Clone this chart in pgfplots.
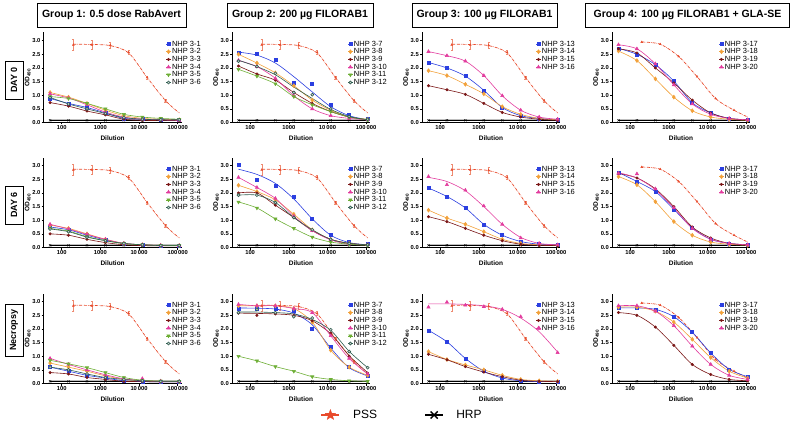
\documentclass[border=0pt]{standalone}
\usepackage{fontspec}
\setmainfont{Liberation Sans}
\usepackage{pgfplots}
\usepackage{pgfplotstable}
\pgfplotsset{compat=1.18}

\definecolor{cA}{HTML}{2B3FE0}
\definecolor{cB}{HTML}{F2A13A}
\definecolor{cC}{HTML}{7A1616}
\definecolor{cD}{HTML}{E23C9E}
\definecolor{cE}{HTML}{6DAE35}
\definecolor{cF}{HTML}{2E5E50}
\definecolor{pss}{HTML}{E84A2B}
\definecolor{psserr}{HTML}{EE8A70}

% filled five point star for the PSS key
\pgfdeclareplotmark{fstar}{%
  \pgfpathmoveto{\pgfpointpolar{90}{\pgfplotmarksize}}%
  \pgfpathlineto{\pgfpointpolar{126}{0.42\pgfplotmarksize}}%
  \pgfpathlineto{\pgfpointpolar{162}{\pgfplotmarksize}}%
  \pgfpathlineto{\pgfpointpolar{198}{0.42\pgfplotmarksize}}%
  \pgfpathlineto{\pgfpointpolar{234}{\pgfplotmarksize}}%
  \pgfpathlineto{\pgfpointpolar{270}{0.42\pgfplotmarksize}}%
  \pgfpathlineto{\pgfpointpolar{306}{\pgfplotmarksize}}%
  \pgfpathlineto{\pgfpointpolar{342}{0.42\pgfplotmarksize}}%
  \pgfpathlineto{\pgfpointpolar{18}{\pgfplotmarksize}}%
  \pgfpathlineto{\pgfpointpolar{54}{0.42\pgfplotmarksize}}%
  \pgfpathclose\pgfusepathqfillstroke}

% ---------- controls ----------
\pgfplotstableread{
x y
50 0.08
150 0.08
450 0.08
1350 0.08
4050 0.08
12150 0.08
36450 0.08
109350 0.08
}\hrp

\pgfplotstableread{
x y e
200 2.85 0.20
600 2.85 0.18
1800 2.83 0.12
5400 2.57 0.08
16200 1.65 0.05
48600 0.80 0.04
}\psspts
\pgfplotstableread{
x y
200 2.87
600 2.86
1800 2.82
5400 2.55
16200 1.65
48600 0.80
110000 0.35
}\pssfit
\pgfplotstableread{
x y
200 2.95
600 2.87
1800 2.42
5400 1.68
16200 0.88
48600 0.45
}\pssGpts
\pgfplotstableread{
x y
200 2.95
600 2.87
1800 2.42
5400 1.68
16200 0.88
48600 0.45
110000 0.20
}\pssGfit

% ---------- DAY 0 ----------
\pgfplotstableread{
x a b c d e f
50 0.88 1.10 0.73 1.05 0.95 0.92
150 0.70 0.93 0.60 0.90 0.88 0.68
450 0.55 0.70 0.42 0.65 0.70 0.50
1350 0.35 0.45 0.28 0.38 0.50 0.33
4050 0.15 0.25 0.12 0.20 0.30 0.18
12150 0.12 0.15 0.08 0.12 0.20 0.12
36450 0.10 0.12 0.07 0.10 0.15 0.10
109350 0.10 0.10 0.07 0.08 0.12 0.10
}\gAdz
\pgfplotstableread{
x a b c d e f af ff
50 2.55 2.50 2.07 2.28 1.95 2.25 2.58 2.28
150 2.53 2.18 1.78 2.05 1.70 2.05 2.47 2.05
450 2.30 1.82 1.55 1.62 1.42 1.80 2.18 1.75
1350 1.45 1.35 1.10 0.98 0.95 1.10 1.68 1.30
4050 1.42 0.82 0.70 0.50 0.65 1.02 1.12 0.88
12150 0.65 0.45 0.40 0.25 0.40 0.50 0.58 0.48
36450 0.28 0.20 0.20 0.15 0.20 0.22 0.25 0.22
109350 0.12 0.12 0.10 0.10 0.10 0.12 0.10 0.10
}\gBdz
\pgfplotstableread{
x a b c d
50 2.20 1.90 1.35 2.60
150 2.00 1.72 1.20 2.45
450 1.70 1.40 1.03 2.25
1350 1.18 1.05 0.70 1.72
4050 0.55 0.58 0.37 0.98
12150 0.25 0.30 0.20 0.45
36450 0.15 0.15 0.12 0.20
109350 0.10 0.10 0.08 0.12
}\gCdz
\pgfplotstableread{
x a b c d
50 2.72 2.62 2.70 2.85
150 2.50 2.27 2.55 2.70
450 2.12 1.60 2.00 2.15
1350 1.52 0.93 1.45 1.38
4050 0.72 0.43 0.82 0.68
12150 0.35 0.20 0.35 0.30
36450 0.15 0.12 0.15 0.15
109350 0.10 0.08 0.10 0.10
}\gDdz

% ---------- DAY 6 ----------
\pgfplotstableread{
x a b c d e f
50 0.75 0.82 0.50 0.85 0.70 0.68
150 0.65 0.70 0.45 0.68 0.60 0.58
450 0.45 0.50 0.30 0.48 0.40 0.38
1350 0.28 0.30 0.18 0.30 0.25 0.25
4050 0.15 0.15 0.10 0.15 0.14 0.15
12150 0.10 0.10 0.07 0.10 0.10 0.10
36450 0.07 0.07 0.06 0.08 0.08 0.07
109350 0.07 0.07 0.06 0.07 0.07 0.07
}\gAds
\pgfplotstableread{
x a b c d e f af
50 3.02 2.28 2.00 2.57 1.67 1.92 2.87
150 2.47 2.05 2.00 2.20 1.45 1.92 2.68
450 2.25 1.75 1.55 1.80 1.05 1.65 2.35
1350 1.87 1.22 1.10 1.15 0.70 1.10 1.78
4050 1.07 0.65 0.62 0.62 0.38 0.65 1.05
12150 0.47 0.30 0.30 0.28 0.20 0.30 0.45
36450 0.20 0.15 0.15 0.12 0.12 0.15 0.18
109350 0.12 0.10 0.10 0.10 0.08 0.10 0.10
}\gBds
\pgfplotstableread{
x a b c d df
50 2.18 1.37 1.13 2.60 2.57
150 1.87 1.08 0.95 2.30 2.42
450 1.45 0.85 0.70 2.10 2.08
1350 0.85 0.58 0.45 1.52 1.50
4050 0.45 0.30 0.25 0.85 0.85
12150 0.22 0.15 0.12 0.35 0.37
36450 0.12 0.10 0.08 0.15 0.15
109350 0.10 0.08 0.07 0.10 0.10
}\gCds
\pgfplotstableread{
x a b c d df
50 2.75 2.60 2.72 2.72 2.74
150 2.42 2.30 2.55 2.70 2.55
450 2.05 1.68 2.15 2.15 2.12
1350 1.40 0.95 1.50 1.45 1.45
4050 0.72 0.45 0.75 0.70 0.70
12150 0.30 0.20 0.35 0.30 0.30
36450 0.15 0.12 0.15 0.15 0.15
109350 0.10 0.08 0.10 0.10 0.10
}\gDds

% ---------- Necropsy ----------
\pgfplotstableread{
x a b c d e f df
50 0.60 0.75 0.40 0.92 0.85 0.60 0.92
150 0.45 0.60 0.35 0.70 0.72 0.50 0.70
450 0.30 0.45 0.22 0.50 0.58 0.35 0.50
1350 0.20 0.28 0.15 0.32 0.40 0.22 0.32
4050 0.10 0.15 0.08 0.18 0.22 0.15 0.17
12150 0.07 0.10 0.07 0.18 0.12 0.10 0.11
36450 0.06 0.08 0.06 0.08 0.09 0.08 0.08
109350 0.06 0.07 0.06 0.07 0.08 0.08 0.07
}\gAnc
\pgfplotstableread{
x a b c d e f af cf ff
50 2.75 2.85 2.58 2.90 1.00 2.60 2.77 2.58 2.62
150 2.75 2.85 2.50 2.85 0.83 2.72 2.76 2.57 2.62
450 2.75 2.85 2.55 2.85 0.62 2.60 2.73 2.55 2.60
1350 2.65 2.75 2.50 2.75 0.45 2.45 2.58 2.50 2.55
4050 2.02 2.25 2.30 2.60 0.25 2.40 2.15 2.30 2.35
12150 1.33 1.22 1.85 1.75 0.15 1.97 1.30 1.82 1.95
36450 0.60 0.60 1.00 0.92 0.10 1.17 0.58 1.02 1.18
109350 0.30 0.30 0.38 0.35 0.08 0.58 0.28 0.40 0.58
}\gBnc
\pgfplotstableread{
x a b c d df
50 1.95 1.17 1.07 2.80 2.92
150 1.53 0.88 0.87 2.98 2.92
450 0.92 0.68 0.62 2.87 2.90
1350 0.45 0.50 0.42 2.82 2.85
4050 0.20 0.30 0.25 2.72 2.72
12150 0.10 0.15 0.12 2.45 2.40
36450 0.07 0.10 0.08 2.02 1.90
109350 0.07 0.08 0.07 1.13 1.15
}\gCnc
\pgfplotstableread{
x a b c d
50 2.77 2.80 2.60 2.85
150 2.77 2.80 2.50 2.85
450 2.72 2.65 2.07 2.65
1350 2.45 2.25 1.40 2.12
4050 1.88 1.62 0.70 1.37
12150 1.12 0.95 0.33 0.70
36450 0.52 0.45 0.15 0.30
109350 0.25 0.20 0.10 0.15
}\gDnc

\pgfplotsset{
  legend image code/.code={\draw[mark repeat=2,mark phase=2,#1] plot coordinates {(0pt,0pt)(2.2pt,0pt)(4.4pt,0pt)};},
  pnl/.style={
    scale only axis, width=138pt, height=90pt, anchor=south west,
    xmin=34, xmax=126000, ymin=0, ymax=3.3,
    axis x line*=bottom, axis y line*=left,
    axis line style={line width=0.6pt},
    every tick/.style={black, line width=0.5pt},
    tick align=outside, major tick length=2pt,
    xminorticks=false, yminorticks=false,
    xtick={100,1000,10000,100000},
    xticklabels={100,1000,10\,000,100\,000},
    ytick={0,0.5,1,1.5,2,2.5,3},
    yticklabels={0.0,0.5,1.0,1.5,2.0,2.5,3.0},
    ticklabel style={font=\bfseries\fontsize{5.8}{6}\selectfont, inner sep=1pt},
    xlabel={Dilution}, ylabel={OD\textsubscript{490}},
    xlabel style={font=\bfseries\fontsize{6.5}{7}\selectfont, at={(axis description cs:0.5,-0.172)}, anchor=center},
    ylabel style={font=\bfseries\fontsize{6.5}{7}\selectfont, at={(axis description cs:-0.115,0.5)}, anchor=center},
    legend style={draw=none, fill=none, anchor=north west, inner sep=0pt, outer sep=0pt,
      font=\fontsize{7.5}{8}\selectfont, nodes={inner ysep=0.3pt, inner xsep=1pt}},
    legend cell align=left,
  },
  sA/.style={cA, line width=0.6pt, smooth, mark=square*, mark size=1.5pt, mark options={solid}},
  sB/.style={cB, line width=0.6pt, smooth, mark=diamond*, mark size=1.9pt, mark options={solid}},
  sC/.style={cC, line width=0.6pt, smooth, mark=*, mark size=1.2pt, mark options={solid}},
  sD/.style={cD, line width=0.6pt, smooth, mark=triangle*, mark size=1.8pt, mark options={solid}},
  sE/.style={cE, line width=0.6pt, smooth, mark=triangle*, mark size=1.8pt, mark options={solid, rotate=180}},
  sF/.style={cF, line width=0.6pt, smooth, mark=*, mark size=1.5pt, mark options={solid, fill=gray!35, draw=cF}},
}

% strut that sets the row pitch of the panel legends
\newcommand\lst{\rule[-1.3pt]{0pt}{6.9pt}}

\newcommand\controls{%
  \addplot[gray!50, line width=2.2pt, forget plot] table[x=x,y=y] {\hrp};
  \addplot[black, line width=0.4pt, mark=x, mark size=1.6pt, forget plot] table[x=x,y=y] {\hrp};
  \addplot[pss, densely dashdotted, line width=0.7pt, smooth, forget plot] table[x=x,y=y] {\pssfit};
  \addplot[pss, only marks, mark=triangle*, mark size=1.1pt, forget plot,
    error bars/.cd, y dir=both, y explicit, error bar style={psserr, line width=0.5pt}]
    table[x=x,y=y,y error=e] {\psspts};
}
\newcommand\controlsG{%
  \addplot[gray!50, line width=2.2pt, forget plot] table[x=x,y=y] {\hrp};
  \addplot[black, line width=0.4pt, mark=x, mark size=1.6pt, forget plot] table[x=x,y=y] {\hrp};
  \addplot[pss, densely dashdotted, line width=0.7pt, smooth, forget plot] table[x=x,y=y] {\pssGfit};
  \addplot[pss, only marks, mark=triangle*, mark size=1.1pt, forget plot] table[x=x,y=y] {\pssGpts};
}
\newcommand\ser[4]{\addplot[#1] table[x=x,y=#3] {#2}; \addlegendentry{\lst #4}}
\newcommand\serfit[5]{%
  \addplot[#1, only marks, forget plot] table[x=x,y=#3] {#2};
  \addplot[#1, mark=none, forget plot] table[x=x,y=#4] {#2};
  \addlegendimage{#1}\addlegendentry{\lst #5}}

\begin{document}
\begin{tikzpicture}
\path[use as bounding box] (0pt,0pt) rectangle (791pt,423pt);

% headers
\tikzset{hdr/.style={draw, line width=0.8pt, minimum height=24pt, inner sep=0pt, font=\bfseries\fontsize{10.5}{12}\selectfont},
         rowl/.style={draw, line width=0.8pt, rotate=90, minimum height=18pt, inner sep=0pt, font=\bfseries\fontsize{9}{10}\selectfont}}
\node[hdr, minimum width=149pt] at (111.5pt,408pt) {Group 1: 0.5 dose RabAvert};
\node[hdr, minimum width=146pt] at (300pt,408pt) {Group 2: 200 µg FILORAB1};
\node[hdr, minimum width=145pt] at (484.5pt,408pt) {Group 3: 100 µg FILORAB1};
\node[hdr, minimum width=204pt] at (687.5pt,408pt) {Group 4: 100 µg FILORAB1 + GLA-SE};
\node[rowl, minimum width=38pt] at (14pt,343pt) {DAY 0};
\node[rowl, minimum width=38pt] at (14pt,218pt) {DAY 6};
\node[rowl, minimum width=52pt] at (14pt,93pt) {Necropsy};

% ===== DAY 0 =====
\begin{semilogxaxis}[pnl, at={(43.6pt,300.5pt)}, legend style={at={(0.887,0.915)}}]
\controls
\ser{sA}{\gAdz}{a}{NHP 3-1}
\ser{sB}{\gAdz}{b}{NHP 3-2}
\ser{sC}{\gAdz}{c}{NHP 3-3}
\ser{sD}{\gAdz}{d}{NHP 3-4}
\ser{sE}{\gAdz}{e}{NHP 3-5}
\ser{sF}{\gAdz}{f}{NHP 3-6}
\end{semilogxaxis}
\begin{semilogxaxis}[pnl, at={(232pt,300.5pt)}, legend style={at={(0.84,0.915)}}]
\controls
\serfit{sA}{\gBdz}{a}{af}{NHP 3-7}
\ser{sB}{\gBdz}{b}{NHP 3-8}
\ser{sC}{\gBdz}{c}{NHP 3-9}
\ser{sD}{\gBdz}{d}{NHP 3-10}
\ser{sE}{\gBdz}{e}{NHP 3-11}
\serfit{sF}{\gBdz}{f}{ff}{NHP 3-12}
\end{semilogxaxis}
\begin{semilogxaxis}[pnl, at={(422pt,300.5pt)}, legend style={at={(0.826,0.915)}}]
\controls
\ser{sA}{\gCdz}{a}{NHP 3-13}
\ser{sB}{\gCdz}{b}{NHP 3-14}
\ser{sC}{\gCdz}{c}{NHP 3-15}
\ser{sD}{\gCdz}{d}{NHP 3-16}
\end{semilogxaxis}
\begin{semilogxaxis}[pnl, at={(612pt,300.5pt)}, legend style={at={(0.775,0.915)}}]
\controlsG
\ser{sA}{\gDdz}{a}{NHP 3-17}
\ser{sB}{\gDdz}{b}{NHP 3-18}
\ser{sC}{\gDdz}{c}{NHP 3-19}
\ser{sD}{\gDdz}{d}{NHP 3-20}
\end{semilogxaxis}

% ===== DAY 6 =====
\begin{semilogxaxis}[pnl, at={(43.6pt,175.5pt)}, legend style={at={(0.887,0.915)}}]
\controls
\ser{sA}{\gAds}{a}{NHP 3-1}
\ser{sB}{\gAds}{b}{NHP 3-2}
\ser{sC}{\gAds}{c}{NHP 3-3}
\ser{sD}{\gAds}{d}{NHP 3-4}
\ser{sE}{\gAds}{e}{NHP 3-5}
\ser{sF}{\gAds}{f}{NHP 3-6}
\end{semilogxaxis}
\begin{semilogxaxis}[pnl, at={(232pt,175.5pt)}, legend style={at={(0.84,0.915)}}]
\controls
\serfit{sA}{\gBds}{a}{af}{NHP 3-7}
\ser{sB}{\gBds}{b}{NHP 3-8}
\ser{sC}{\gBds}{c}{NHP 3-9}
\ser{sD}{\gBds}{d}{NHP 3-10}
\ser{sE}{\gBds}{e}{NHP 3-11}
\ser{sF}{\gBds}{f}{NHP 3-12}
\end{semilogxaxis}
\begin{semilogxaxis}[pnl, at={(422pt,175.5pt)}, legend style={at={(0.826,0.915)}}]
\controls
\ser{sA}{\gCds}{a}{NHP 3-13}
\ser{sB}{\gCds}{b}{NHP 3-14}
\ser{sC}{\gCds}{c}{NHP 3-15}
\serfit{sD}{\gCds}{d}{df}{NHP 3-16}
\end{semilogxaxis}
\begin{semilogxaxis}[pnl, at={(612pt,175.5pt)}, legend style={at={(0.775,0.915)}}]
\controlsG
\ser{sA}{\gDds}{a}{NHP 3-17}
\ser{sB}{\gDds}{b}{NHP 3-18}
\ser{sC}{\gDds}{c}{NHP 3-19}
\serfit{sD}{\gDds}{d}{df}{NHP 3-20}
\end{semilogxaxis}

% ===== Necropsy =====
\begin{semilogxaxis}[pnl, at={(43.6pt,39.5pt)}, legend style={at={(0.887,0.915)}}]
\controls
\ser{sA}{\gAnc}{a}{NHP 3-1}
\ser{sB}{\gAnc}{b}{NHP 3-2}
\ser{sC}{\gAnc}{c}{NHP 3-3}
\serfit{sD}{\gAnc}{d}{df}{NHP 3-4}
\ser{sE}{\gAnc}{e}{NHP 3-5}
\ser{sF}{\gAnc}{f}{NHP 3-6}
\end{semilogxaxis}
\begin{semilogxaxis}[pnl, at={(232pt,39.5pt)}, legend style={at={(0.84,0.915)}}]
\controls
\serfit{sA}{\gBnc}{a}{af}{NHP 3-7}
\ser{sB}{\gBnc}{b}{NHP 3-8}
\serfit{sC}{\gBnc}{c}{cf}{NHP 3-9}
\ser{sD}{\gBnc}{d}{NHP 3-10}
\ser{sE}{\gBnc}{e}{NHP 3-11}
\serfit{sF}{\gBnc}{f}{ff}{NHP 3-12}
\end{semilogxaxis}
\begin{semilogxaxis}[pnl, at={(422pt,39.5pt)}, legend style={at={(0.826,0.915)}}]
\controls
\ser{sA}{\gCnc}{a}{NHP 3-13}
\ser{sB}{\gCnc}{b}{NHP 3-14}
\ser{sC}{\gCnc}{c}{NHP 3-15}
\serfit{sD}{\gCnc}{d}{df}{NHP 3-16}
\end{semilogxaxis}
\begin{semilogxaxis}[pnl, at={(612pt,39.5pt)}, legend style={at={(0.775,0.915)}}]
\controlsG
\ser{sA}{\gDnc}{a}{NHP 3-17}
\ser{sB}{\gDnc}{b}{NHP 3-18}
\ser{sC}{\gDnc}{c}{NHP 3-19}
\ser{sD}{\gDnc}{d}{NHP 3-20}
\end{semilogxaxis}

% ===== shared key =====
\begin{axis}[at={(320pt,8pt)}, anchor=west, scale only axis, width=4pt, height=4pt,
  hide axis, xmin=0, xmax=1, ymin=0, ymax=1,
  legend style={at={(0,0.5)}, anchor=west, draw=none, fill=none, inner sep=0pt,
    legend columns=2, font=\fontsize{12}{14}\selectfont,
    /tikz/every odd column/.append style={column sep=12pt},
    /tikz/every even column/.append style={column sep=47pt},
    nodes={inner ysep=1pt, inner xsep=0.5pt}},
  legend image code/.code={\draw[mark repeat=2,mark phase=2,#1] plot coordinates {(0pt,0pt)(9pt,0pt)(18pt,0pt)};}]
\addlegendimage{pss, line width=2.4pt, mark=fstar, mark size=5.5pt, mark options={line width=0.3pt}}
\addlegendentry{PSS}
\addlegendimage{black, line width=1.2pt, mark=x, mark size=5pt, mark options={line width=1.4pt}}
\addlegendentry{HRP}
\end{axis}
\end{tikzpicture}
\end{document}
